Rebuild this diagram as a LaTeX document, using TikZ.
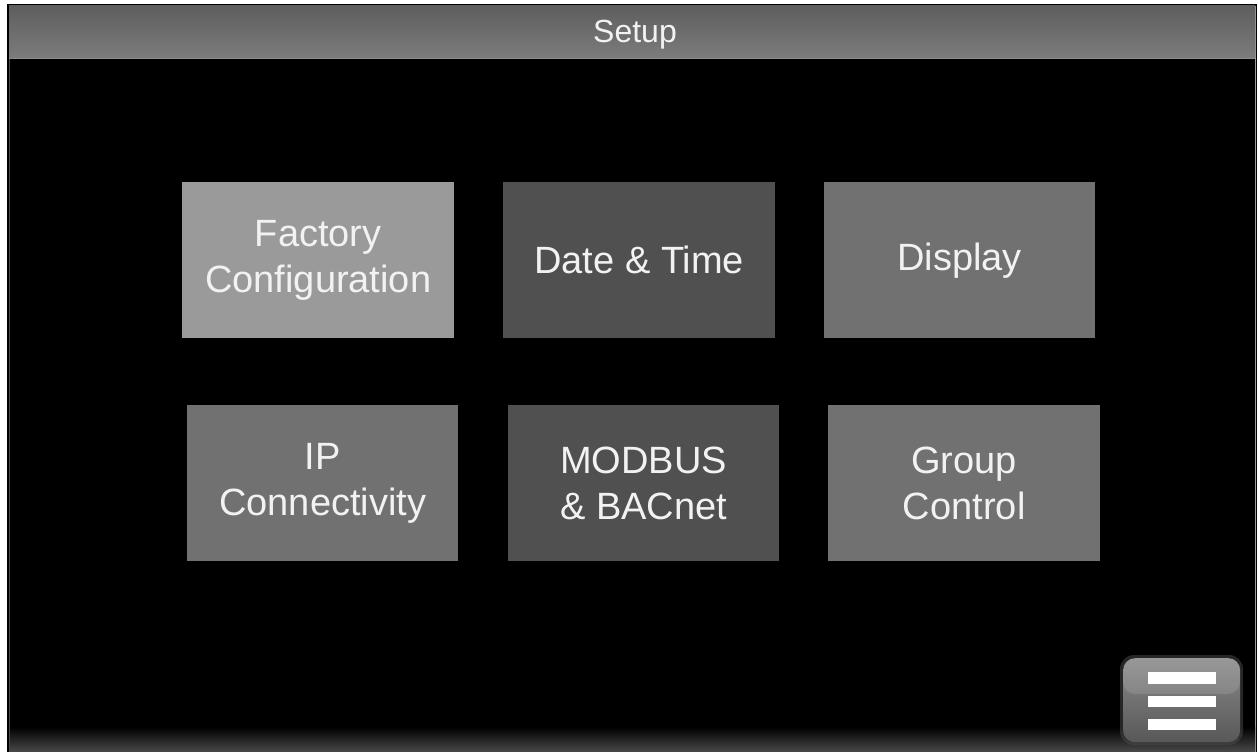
\documentclass[tikz,border=0pt]{standalone}
\usepackage{fontspec}
\setmainfont{Liberation Sans}
\definecolor{txt}{HTML}{F2F2F2}
\definecolor{light}{HTML}{9A9A9A}
\definecolor{mid}{HTML}{717171}
\definecolor{dark}{HTML}{505050}
\tikzset{
  btn/.style={rectangle, anchor=north west, minimum width=272pt, minimum height=156pt,
    inner sep=0pt, align=center, text=txt, font=\fontsize{38}{46}\selectfont},
  menubar/.style={fill=white}
}
\begin{document}
\begin{tikzpicture}[x=1pt,y=-1pt]
\useasboundingbox (0,0) rectangle (1258,752);
\fill[white] (0,0) rectangle (1258,752);
% screen
\fill[black] (7,4) rectangle (1257,752);
\draw[gray!60!black, line width=0.8pt] (9.5,58) -- (9.5,752);
\draw[gray!80, line width=0.8pt] (1255.6,6) -- (1255.6,752);
% header
\fill[top color={rgb,255:red,94;green,94;blue,94}, bottom color={rgb,255:red,124;green,124;blue,124}] (9,6) rectangle (1255,58);
\draw[gray!90!white, line width=1pt] (9,58.5) -- (1255,58.5);
\node[text=txt, font=\fontsize{32}{36}\selectfont] (title) at (635,34.5) {Setup};
% bottom bar
\fill[top color=black, bottom color={rgb,255:red,74;green,74;blue,74}] (10,727) rectangle (1255,752);
% buttons
\node[btn, fill=light] (factory) at (182,182) {Factory\\Configuration};
\node[btn, fill=dark] (datetime) at (503,182) {Date \& Time};
\node[btn, fill=mid, minimum width=271pt] (display) at (824,182) {Display};
\node[btn, fill=mid, minimum width=271pt] (ip) at (187,405) {IP\\Connectivity};
\node[btn, fill=dark, minimum width=271pt] (modbus) at (508,405) {MODBUS\\\& BACnet};
\node[btn, fill=mid] (group) at (828,405) {Group\\Control};
% menu button
\fill[black!70, opacity=0.5, rounded corners=14pt] (1120,655) rectangle (1243,745);
\node[rectangle, rounded corners=12pt, anchor=north west, minimum width=117pt, minimum height=84pt,
  top color={rgb,255:red,138;green,138;blue,138}, bottom color={rgb,255:red,88;green,88;blue,88}] (menu) at (1123,658) {};
\fill[white, opacity=0.12, rounded corners=12pt] (1123,658) rectangle (1240,694);
\fill[menubar] (1148,672) rectangle (1216,684);
\fill[menubar] (1148,696) rectangle (1216,707);
\fill[menubar] (1148,719) rectangle (1216,730);
\end{tikzpicture}
\end{document}
